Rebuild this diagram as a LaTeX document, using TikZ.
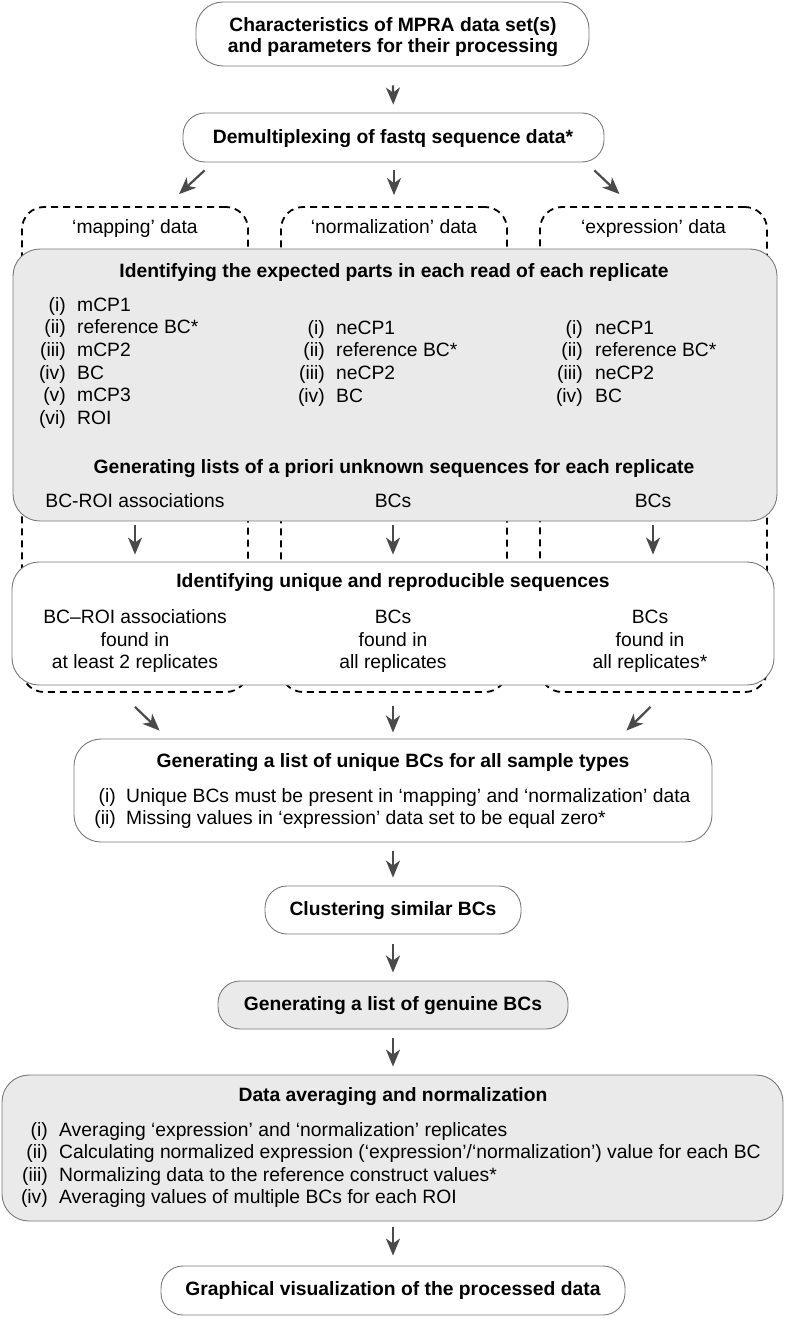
\documentclass[tikz,border=0pt]{standalone}
\usepackage{fontspec}
\setmainfont{Liberation Sans}
\usetikzlibrary{arrows.meta,calc}
\definecolor{boxgray}{HTML}{7A7A7A}
\definecolor{boxfill}{HTML}{EAEAEA}
\definecolor{arrgray}{HTML}{4A4A4A}
\begin{document}
\begin{tikzpicture}[x=1pt,y=-1pt,
  font=\fontsize{19.3}{22.6}\selectfont,
  box/.style={draw=boxgray, line width=0.9pt, rounded corners=22pt, fill=white, inner sep=0pt},
  graybox/.style={box, fill=boxfill},
  dbox/.style={draw=black, line width=1.8pt, dash pattern=on 7pt off 5pt, rounded corners=22pt, inner sep=0pt},
  arr/.style={draw=arrgray, line width=2.2pt, -{Stealth[length=17pt,width=14pt,inset=5pt]}},
  txt/.style={inner sep=0pt, anchor=base},
  btxt/.style={txt, font=\fontsize{19.3}{22.6}\selectfont\bfseries},
  lab/.style={inner sep=0pt, anchor=base east},
  itm/.style={inner sep=0pt, anchor=base west}]
\useasboundingbox (0,0) rectangle (787,1319);

% dashed data boxes
\node[dbox, minimum width=226pt, minimum height=485pt] (mapbox) at (135,449.5) {};
\node[dbox, minimum width=226pt, minimum height=485pt] (normbox) at (394,449.5) {};
\node[dbox, minimum width=227pt, minimum height=485pt] (exprbox) at (653.5,449.5) {};
\node[txt] (maplab) at (135,233) {‘mapping’ data};
\node[txt] (normlab) at (394,233) {‘normalization’ data};
\node[txt] (exprlab) at (653.5,233) {‘expression’ data};

% top boxes
\node[box, rounded corners=27pt, minimum width=393pt, minimum height=64pt] (charbox) at (392.5,34) {};
\node[btxt] (char1) at (393,32) {Characteristics of MPRA data set(s)};
\node[btxt] (char2) at (393,53) {and parameters for their processing};
\node[box, minimum width=421pt, minimum height=49pt] (demux) at (393.5,137.5) {};
\node[btxt] (demuxt) at (393,143) {Demultiplexing of fastq sequence data*};

% big gray box
\node[graybox, rounded corners=27pt, minimum width=764pt, minimum height=272pt] (parts) at (395,385) {};
\node[btxt] (partst) at (394,277) {Identifying the expected parts in each read of each replicate};
\foreach \l/\t [count=\i] in {(i)/mCP1,(ii)/{reference BC*},(iii)/mCP2,(iv)/BC,(v)/mCP3,(vi)/ROI}{
  \node[lab] (ml\i) at (66,{311+(\i-1)*22.7}) {\l};
  \node[itm] (mt\i) at (77,{311+(\i-1)*22.7}) {\t};
}
\foreach \l/\t [count=\i] in {(i)/neCP1,(ii)/{reference BC*},(iii)/neCP2,(iv)/BC}{
  \node[lab] (nl\i) at (325,{334+(\i-1)*22.7}) {\l};
  \node[itm] (nt\i) at (336,{334+(\i-1)*22.7}) {\t};
  \node[lab] (el\i) at (583,{334+(\i-1)*22.7}) {\l};
  \node[itm] (et\i) at (595,{334+(\i-1)*22.7}) {\t};
}
\node[btxt] (genlists) at (394,473) {Generating lists of a priori unknown sequences for each replicate};
\node[txt] (gl1) at (135,507) {BC-ROI associations};
\node[txt] (gl2) at (393,507) {BCs};
\node[txt] (gl3) at (653,507) {BCs};

% unique and reproducible
\node[box, rounded corners=27pt, minimum width=762pt, minimum height=123pt] (uniq) at (393,623.5) {};
\node[btxt] (uniqt) at (393,587) {Identifying unique and reproducible sequences};
\node[txt] (u11) at (135,623) {BC–ROI associations};
\node[txt] (u12) at (135,646) {found in};
\node[txt] (u13) at (135,668) {at least 2 replicates};
\node[txt] (u21) at (393,623) {BCs};
\node[txt] (u22) at (393,646) {found in};
\node[txt] (u23) at (393,668) {all replicates};
\node[txt] (u31) at (650,623) {BCs};
\node[txt] (u32) at (650,646) {found in};
\node[txt] (u33) at (650,668) {all replicates*};

% list of unique BCs
\node[box, rounded corners=27pt, minimum width=638pt, minimum height=103pt] (ubc) at (393,790.5) {};
\node[btxt] (ubct) at (393,767) {Generating a list of unique BCs for all sample types};
\node[lab] (ubl1) at (116,802) {(i)};
\node[itm] (ubi1) at (126,802) {Unique BCs must be present in ‘mapping’ and ‘normalization’ data};
\node[lab] (ubl2) at (116,824) {(ii)};
\node[itm] (ubi2) at (126,824) {Missing values in ‘expression’ data set to be equal zero*};

% clustering, genuine
\node[box, minimum width=256pt, minimum height=48pt] (clust) at (393,910) {};
\node[btxt] (clustt) at (393,915) {Clustering similar BCs};
\node[graybox, minimum width=350pt, minimum height=48pt] (genu) at (393,1005) {};
\node[btxt] (genut) at (393,1010) {Generating a list of genuine BCs};

% data averaging
\node[graybox, rounded corners=27pt, minimum width=781pt, minimum height=146pt] (avg) at (392.5,1148) {};
\node[btxt] (avgt) at (393,1101) {Data averaging and normalization};
\foreach \l/\t [count=\i] in {(i)/{Averaging ‘expression’ and ‘normalization’ replicates},
  (ii)/{Calculating normalized expression (‘expression’/‘normalization’) value for each BC},
  (iii)/{Normalizing data to the reference construct values*},
  (iv)/{Averaging values of multiple BCs for each ROI}}{
  \node[lab] (al\i) at (48,{1136+(\i-1)*22.5}) {\l};
  \node[itm] (at\i) at (59,{1136+(\i-1)*22.5}) {\t};
}

% graphical
\node[box, minimum width=464pt, minimum height=49pt] (graph) at (393,1290.5) {};
\node[btxt] (grapht) at (393,1295) {Graphical visualization of the processed data};

% arrows
\draw[arr, shorten <=19pt, shorten >=8pt] (charbox.south) -- (demux.north);
\draw[arr] ($(demux.south west)+(22,8)$) -- ($(mapbox.north)+(44,-12)$);
\draw[arr, shorten <=8pt, shorten >=11pt] (demux.south -| normbox.north) -- (normbox.north);
\draw[arr] ($(demux.south east)+(-10,8)$) -- ($(exprbox.north)+(-34,-12)$);

\draw[arr, shorten <=4pt, shorten >=7pt] (parts.south -| gl1) -- (uniq.north -| gl1);
\draw[arr, shorten <=4pt, shorten >=7pt] (parts.south -| gl2) -- (uniq.north -| gl2);
\draw[arr, shorten <=4pt, shorten >=7pt] (parts.south -| gl3) -- (uniq.north -| gl3);

\draw[arr] ($(mapbox.south)+(0,14)$) -- ($(ubc.north west)+(86,-8)$);
\draw[arr, shorten <=13pt, shorten >=6pt] (normbox.south -| ubc.north) -- (ubc.north);
\draw[arr] ($(exprbox.south)+(-3,14)$) -- ($(ubc.north east)+(-86,-8)$);

\draw[arr, shorten <=9pt, shorten >=8pt] (ubc.south) -- (clust.north);
\draw[arr, shorten <=10pt, shorten >=8pt] (clust.south) -- (genu.north);
\draw[arr, shorten <=9pt, shorten >=8pt] (genu.south) -- (avg.north -| genu.south);
\draw[arr, shorten <=6pt, shorten >=10pt] (avg.south -| graph.north) -- (graph.north);
\end{tikzpicture}
\end{document}
